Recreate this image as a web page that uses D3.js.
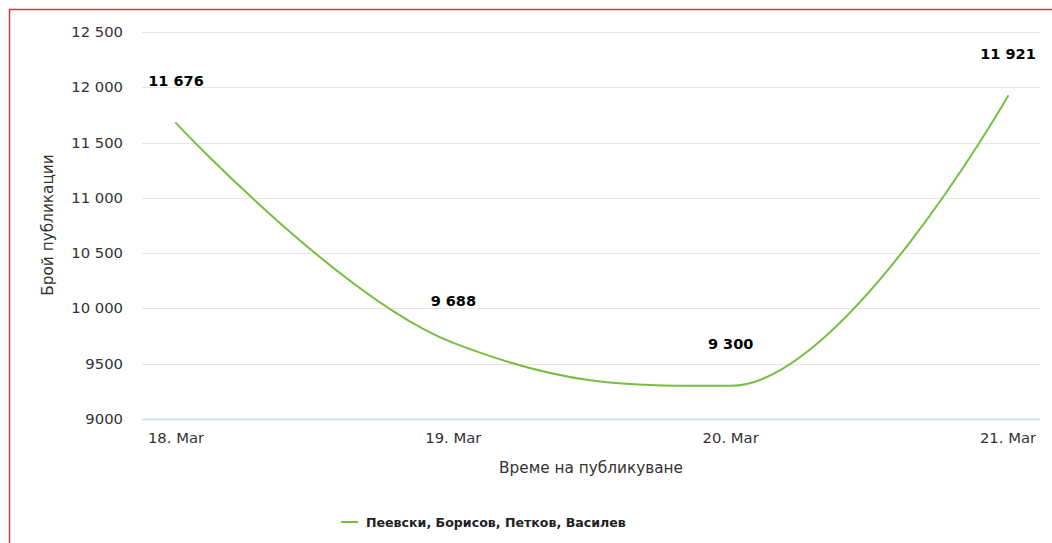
<!DOCTYPE html>
<html>
  <head>
    <meta charset="utf-8">
    <style>
      html, body {
        margin: 0px;
        padding: 0px;
        background: #fff;
      }
      svg {
        display: block;
      }
      text {
        font-family: "DejaVu Sans", sans-serif;
      }
    </style>
  </head>
  <body>
    <svg id="chart" width="1052" height="543"></svg>
    <script src="https://cdnjs.cloudflare.com/ajax/libs/d3/7.8.5/d3.min.js" charset="utf-8"></script>
    <script>
      // data
      const dates = ["2024-03-18", "2024-03-19", "2024-03-20", "2024-03-21"];
      const values = [11676, 9688, 9300, 11921];
      const xTickLabels = ["18. Mar", "19. Mar", "20. Mar", "21. Mar"];
      const yTicks = [9000, 9500, 10000, 10500, 11000, 11500, 12000, 12500];
      const seriesName = "Пеевски, Борисов, Петков, Василев";

      const svg = d3.select("#chart");
      const parse = d3.timeParse("%Y-%m-%d");
      const days = dates.map(parse);

      const plotLeft = 142, plotRight = 1040;
      const x = d3.scaleTime()
        .domain(d3.extent(days))
        .range([176, 1008]);
      const y = d3.scaleLinear()
        .domain([9000, 12500])
        .range([419, 32]);

      const fmtNum = function(v) {
        // 10000 and up get a space as thousands separator, like the source
        return v >= 10000 ? d3.format(",")(v).replace(/,/g, " ") : String(v);
      };

      // outer red frame (only top and left show)
      svg.append("rect")
        .attr("x", 9.5).attr("y", 9.5)
        .attr("width", 1200).attr("height", 700)
        .attr("fill", "none")
        .attr("stroke", "#dc3545")
        .attr("stroke-width", 1.5);

      // grid lines + y labels
      const yAxis = svg.append("g");
      yAxis.selectAll("line.grid")
        .data(yTicks.filter(function(t) { return t > 9000; }))
        .enter().append("line")
        .attr("class", "grid")
        .attr("x1", plotLeft).attr("x2", plotRight)
        .attr("y1", function(d) { return Math.round(y(d)) + 0.5; })
        .attr("y2", function(d) { return Math.round(y(d)) + 0.5; })
        .attr("stroke", "#e6e6e6")
        .attr("stroke-width", 1);
      yAxis.selectAll("text")
        .data(yTicks)
        .enter().append("text")
        .attr("x", 123)
        .attr("y", function(d) { return y(d) + 5; })
        .attr("text-anchor", "end")
        .attr("font-size", 14.8)
        .attr("fill", "#333")
        .text(fmtNum);

      // x axis line + labels
      svg.append("line")
        .attr("x1", plotLeft).attr("x2", plotRight)
        .attr("y1", Math.round(y(9000)) + 0.5).attr("y2", Math.round(y(9000)) + 0.5)
        .attr("stroke", "#ccd6eb")
        .attr("stroke-width", 1.5);
      svg.append("g").selectAll("text")
        .data(days)
        .enter().append("text")
        .attr("x", function(d) { return x(d); })
        .attr("y", 443)
        .attr("text-anchor", "middle")
        .attr("font-size", 14.8)
        .attr("fill", "#333")
        .text(function(d, i) { return xTickLabels[i]; });

      // axis titles
      svg.append("text")
        .attr("x", 591).attr("y", 473)
        .attr("text-anchor", "middle")
        .attr("font-size", 15.3)
        .attr("fill", "#333")
        .text("Време на публикуване");
      svg.append("text")
        .attr("transform", "translate(53,225) rotate(-90)")
        .attr("text-anchor", "middle")
        .attr("font-size", 15.3)
        .attr("fill", "#333")
        .text("Брой публикации");

      // spline, same smoothing as highcharts uses
      function splinePath(pts) {
        const smoothing = 1.5, denom = smoothing + 1;
        const conts = pts.map(function(p, i) {
          if (i === 0 || i === pts.length - 1) return null;
          const a = pts[i - 1], b = pts[i + 1];
          let lx = (smoothing * p[0] + a[0]) / denom, ly = (smoothing * p[1] + a[1]) / denom;
          let rx = (smoothing * p[0] + b[0]) / denom, ry = (smoothing * p[1] + b[1]) / denom;
          const corr = ((ry - ly) * (rx - p[0])) / (rx - lx) + p[1] - ry;
          ly += corr; ry += corr;
          if (ly > a[1] && ly > p[1]) { ly = Math.max(a[1], p[1]); ry = 2 * p[1] - ly; }
          else if (ly < a[1] && ly < p[1]) { ly = Math.min(a[1], p[1]); ry = 2 * p[1] - ly; }
          if (ry > b[1] && ry > p[1]) { ry = Math.max(b[1], p[1]); ly = 2 * p[1] - ry; }
          else if (ry < b[1] && ry < p[1]) { ry = Math.min(b[1], p[1]); ly = 2 * p[1] - ry; }
          return { l: [lx, ly], r: [rx, ry] };
        });
        const path = d3.path();
        path.moveTo(pts[0][0], pts[0][1]);
        for (let i = 1; i < pts.length; i++) {
          const c1 = conts[i - 1] ? conts[i - 1].r : pts[i - 1];
          const c2 = conts[i] ? conts[i].l : pts[i];
          path.bezierCurveTo(c1[0], c1[1], c2[0], c2[1], pts[i][0], pts[i][1]);
        }
        return path.toString();
      }

      const pts = days.map(function(d, i) { return [x(d), y(values[i])]; });
      svg.append("path")
        .attr("d", splinePath(pts))
        .attr("fill", "none")
        .attr("stroke", "#78be43")
        .attr("stroke-width", 2)
        .attr("stroke-linecap", "round");

      // data labels
      svg.append("g").selectAll("text")
        .data(values)
        .enter().append("text")
        .attr("x", function(d, i) { return x(days[i]); })
        .attr("y", function(d) { return y(d) - 37; })
        .attr("text-anchor", "middle")
        .attr("font-size", 14.5)
        .attr("font-weight", "bold")
        .attr("fill", "#000")
        .text(function(d) { return d3.format(",")(d).replace(/,/g, " "); });

      // legend
      const legend = svg.append("g");
      legend.append("line")
        .attr("x1", 341).attr("x2", 358)
        .attr("y1", 522).attr("y2", 522)
        .attr("stroke", "#78be43")
        .attr("stroke-width", 2);
      legend.append("text")
        .attr("x", 366).attr("y", 527)
        .attr("font-size", 12.6)
        .attr("font-weight", "bold")
        .attr("fill", "#222")
        .text(seriesName);
    </script>
  </body>
</html>
